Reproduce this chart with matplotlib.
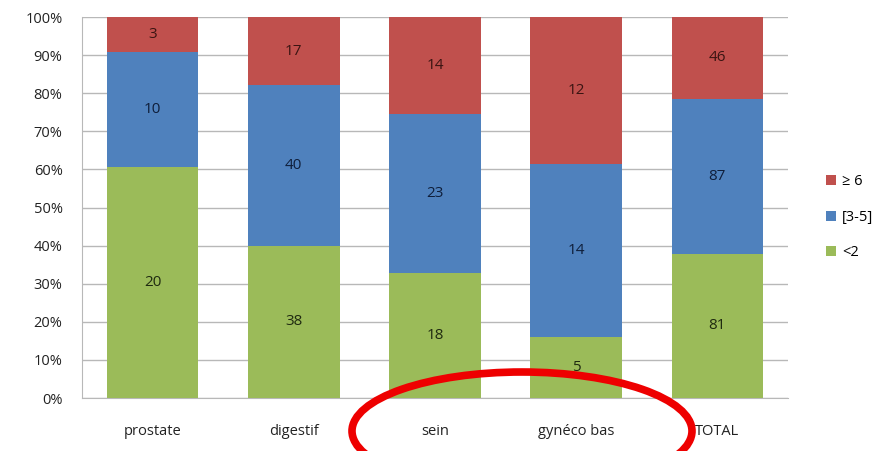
import matplotlib
matplotlib.use("Agg")
import matplotlib.pyplot as plt
from matplotlib.patches import Ellipse
import numpy as np

categories = ["prostate", "digestif", "sein", "gynéco bas", "TOTAL"]
lt2 = [20, 38, 18, 5, 81]
mid = [10, 40, 23, 14, 87]
ge6 = [3, 17, 14, 12, 46]

series_names = ["<2", "[3-5]", "≥ 6"]
series_vals = [lt2, mid, ge6]
colors = ["#9BBB59", "#4F81BD", "#C0504D"]
text_colors = ["#1f2a10", "#0f1e3a", "#3a1412"]

plt.rcParams["font.family"] = ["Open Sans", "DejaVu Sans"]

fig = plt.figure(figsize=(8.96, 4.51), dpi=100)
ax = fig.add_axes([0.0915, 0.1175, 0.788, 0.8448])

counts = np.array(series_vals, dtype=float)
totals = counts.sum(axis=0)
shares = counts / totals * 100
x = np.arange(len(categories))
bottom = np.zeros(len(categories))
handles = []
for name, share, cnt, col, tcol in zip(series_names, shares, counts, colors, text_colors):
    b = ax.bar(x, share, width=0.65, bottom=bottom, color=col, label=name, zorder=3)
    handles.append(b)
    for xi, s, bt, c in zip(x, share, bottom, cnt):
        ax.text(xi, bt + s / 2, f"{int(c)}", ha="center", va="center",
                fontsize=11, color=tcol, zorder=4)
    bottom += share

ax.set_xlim(-0.5, len(categories) - 0.5)
ax.set_ylim(0, 100)
ax.set_yticks(np.arange(0, 101, 10))
ax.set_yticklabels([f"{v}%" for v in range(0, 101, 10)])
ax.set_xticks(x)
ax.set_xticklabels(categories)
ax.tick_params(axis="both", length=0, labelsize=10.5, colors="#222222")
ax.tick_params(axis="y", pad=14)
ax.tick_params(axis="x", pad=19)
ax.yaxis.grid(True, color="#b8b8b8", linewidth=1, zorder=0)
for side in ["top", "right"]:
    ax.spines[side].set_visible(False)
for side in ["left", "bottom"]:
    ax.spines[side].set_color("#b8b8b8")

leg = ax.legend(handles[::-1], series_names[::-1], loc="center left",
                bbox_to_anchor=(1.035, 0.474), frameon=False, fontsize=10.5,
                handlelength=0.7, handleheight=0.7, handletextpad=0.4,
                labelspacing=1.4)

# highlight ring around the lower category labels
ring = Ellipse((522 / 896, 1 - 431 / 451), 340 / 896, 118 / 451,
               transform=fig.transFigure, fill=False, edgecolor="#ee0000",
               linewidth=5.5, zorder=10, clip_on=False)
fig.patches.append(ring)

fig.savefig("out.png", dpi=100)
